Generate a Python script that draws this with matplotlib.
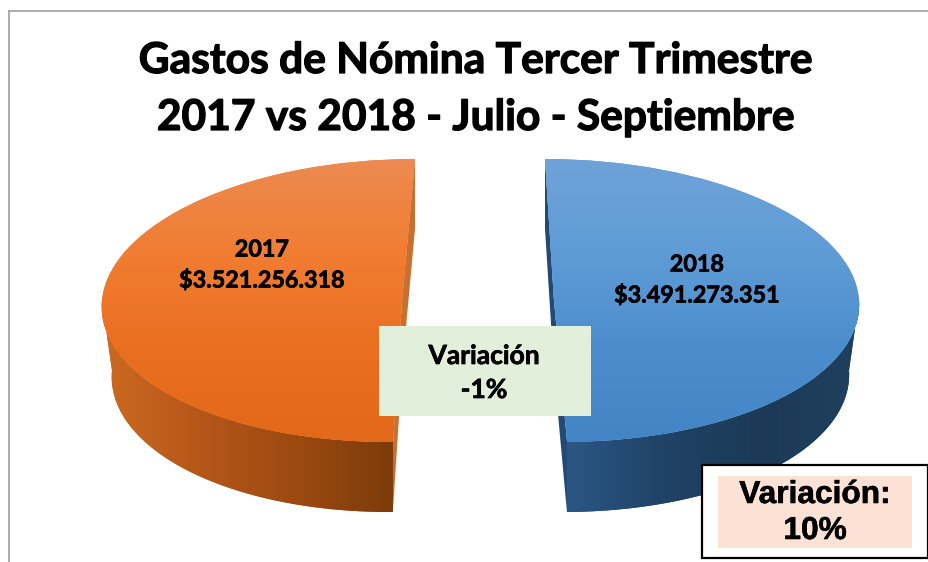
import numpy as np
import matplotlib
matplotlib.use("Agg")
import matplotlib.pyplot as plt
import matplotlib.patheffects as pe
from matplotlib.colors import LinearSegmentedColormap
from matplotlib.patches import Polygon, Rectangle
from matplotlib.transforms import Affine2D

# ====================================
# data
# ====================================

title_lines = ["Gastos de Nómina Tercer Trimestre", "2017 vs 2018 - Julio - Septiembre"]
years = ["2017", "2018"]
gastos = [3521256318, 3491273351]
gastos_labels = ["$3.521.256.318", "$3.491.273.351"]
variacion_centro = ["Variación", "-1%"]
variacion_caja = ["Variación:", "10%"]

# ====================================
# look of each slice (pixel based)
# ====================================

cx = [402, 554]
cy = 300.5
rx = [300, 305]
ry = 141.5
rx_low = [290, 295]
shear = [13, -9]
depth = 70

top_colors = [
    ["#EC8B52", "#F17D32", "#EA6F20", "#E2681A"],
    ["#6FA3D9", "#5F9CD6", "#4C8DCD", "#4384C4"],
]
wall_colors = [
    ["#CB6A20", "#B6571A", "#9C4A10", "#7C3B0A"],
    ["#2B5785", "#1F4266", "#1C3A56", "#20405F"],
]
cut_colors = ["#C8702F", "#234A72"]

fig = plt.figure(figsize=(9.29, 5.62), dpi=100)
ax = fig.add_axes([0, 0, 1, 1])

wedges, _ = ax.pie(gastos, startangle=90, counterclock=True)

ax.set_aspect("auto")
ax.set_xlim(0, 929)
ax.set_ylim(562, 0)
ax.axis("off")


def face_matrix(i, radius_x, dy=0):
    return np.array([
        [radius_x, shear[i], cx[i]],
        [0, -ry, cy + dy],
        [0, 0, 1],
    ])


def project(m, theta):
    t = np.radians(theta)
    pts = np.column_stack([np.cos(t), np.sin(t), np.ones_like(t)])
    return (m @ pts.T).T[:, :2]


def gradient(colors, extent, horizontal, clip, zorder):
    cmap = LinearSegmentedColormap.from_list("g", colors)
    g = np.linspace(0, 1, 256)
    g = g.reshape(1, -1) if horizontal else g.reshape(-1, 1)
    im = ax.imshow(g, cmap=cmap, extent=extent, aspect="auto", zorder=zorder, interpolation="bilinear")
    im.set_clip_path(clip)


def bold_text(x, y, s, size, family="Lato", stroke=0.5):
    t = ax.text(x, y, s, fontsize=size, fontweight="bold", family=family,
                ha="center", va="center", zorder=6)
    if stroke > 0:
        t.set_path_effects([pe.withStroke(linewidth=stroke, foreground="black")])


for i, w in enumerate(wedges):
    m_top = face_matrix(i, rx[i])
    m_low = face_matrix(i, rx_low[i], depth)

    # ====================================
    # outer wall
    # ====================================
    if i == 0:
        angles = np.linspace(180, w.theta2, 120)
    else:
        angles = np.linspace(w.theta1, 360, 120)

    wall_pts = np.vstack([project(m_top, angles), project(m_low, angles[::-1])])
    wall = Polygon(wall_pts, closed=True, facecolor=wall_colors[i][1], edgecolor="none", zorder=2)
    ax.add_patch(wall)
    gradient(
        wall_colors[i],
        (wall_pts[:, 0].min(), wall_pts[:, 0].max(), 520, 290),
        True,
        wall,
        2.1,
    )

    # ====================================
    # cut wall, goes through the slice centre
    # ====================================
    ends = np.array([w.theta1, w.theta2]) if i == 0 else np.array([w.theta2, w.theta1])
    top_pts = project(m_top, ends)
    low_pts = project(m_low, ends)
    cut_pts = np.vstack([
        top_pts[0],
        [cx[i], cy],
        top_pts[1],
        low_pts[1],
        [cx[i], cy + depth],
        low_pts[0],
    ])
    ax.add_patch(Polygon(cut_pts, closed=True, facecolor=cut_colors[i], edgecolor="none", zorder=1))

    # ====================================
    # top face, the pie wedge itself
    # ====================================
    w.set_transform(Affine2D(m_top) + ax.transData)
    w.set_facecolor(top_colors[i][1])
    w.set_edgecolor("none")
    w.set_zorder(3)
    gradient(top_colors[i], (90, 870, cy + ry + 2, cy - ry - 2), False, w, 3.1)

ax.set_xlim(0, 929)
ax.set_ylim(562, 0)

# ====================================
# frame
# ====================================

ax.plot([9, 9], [562, 11], color="#A0A0A0", lw=1.2, zorder=1)
ax.plot([9, 929], [11, 11], color="#A0A0A0", lw=1.2, zorder=1)

# ====================================
# text
# ====================================

bold_text(476, 61, title_lines[0], 30.6, stroke=0.9)
bold_text(476, 118, title_lines[1], 30.6, stroke=0.9)

label_x = [262, 697]
label_y = [250, 265]
for i in range(2):
    bold_text(label_x[i], label_y[i], years[i], 16.8)
    bold_text(label_x[i], label_y[i] + 31, gastos_labels[i], 16.8)

ax.add_patch(Rectangle((379, 326), 212, 90, facecolor="#E2EFDA", edgecolor="none", zorder=5))
bold_text(484, 356, variacion_centro[0], 19)
bold_text(484, 390, variacion_centro[1], 19)

ax.add_patch(Rectangle((702, 465), 226, 93, facecolor="white", edgecolor="black", lw=1.6, zorder=5))
ax.add_patch(Rectangle((718, 476), 194, 72, facecolor="#FBE2D5", edgecolor="none", zorder=5.5))
bold_text(815, 495, variacion_caja[0], 22.8, family="Liberation Sans", stroke=0.4)
bold_text(815, 531, variacion_caja[1], 22.8, family="Liberation Sans", stroke=0.4)

plt.savefig("out.png", dpi=100)
